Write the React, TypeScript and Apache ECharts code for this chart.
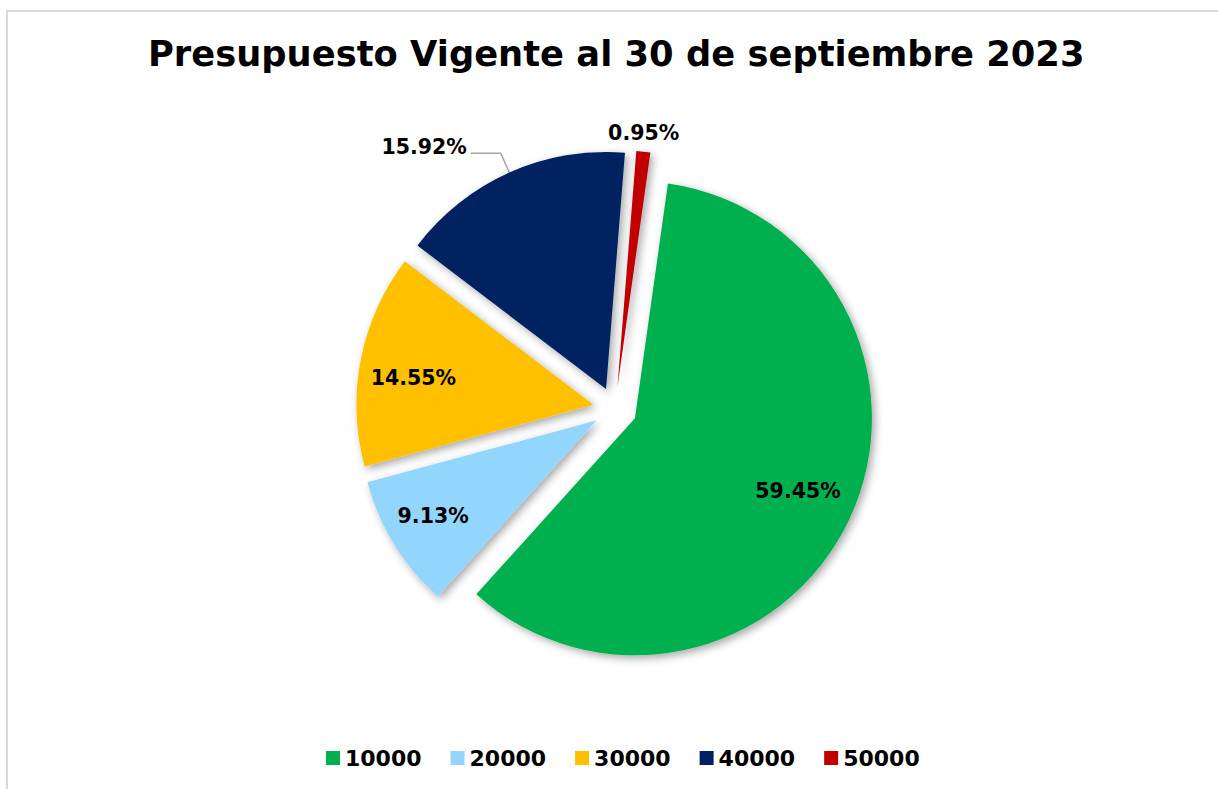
import React, { useEffect, useRef } from "react";
import * as echarts from "echarts";

const titleText = "Presupuesto Vigente al 30 de septiembre 2023";
const categories = ["10000", "20000", "30000", "40000", "50000"];
const percentages = [59.45, 9.13, 14.55, 15.92, 0.95];
const colors = ["#00B050", "#92D5FD", "#FFC000", "#002060", "#C00000"];
// which label placement each slice uses
const insideLabel = [true, true, true, false, false];
const outsideLeaderLabel = [false, false, false, true, false];
const outsideRingLabel = [false, false, false, false, true];
// small label nudges (style only)
const labelNudge = [[-5, -6], [-5, -2], [2, 9], [0, -6], [-2, 2]];

const FONT = "'DejaVu Sans', sans-serif";
const CENTER = [615, 409];
const R = 237;
const OFFSET = 22;
const START = 82;

const fmt = (p: any) => `${Number(p.value).toFixed(2)}%`;

export default function App() {
  const ref = useRef<HTMLDivElement>(null);
  useEffect(() => {
    if (!ref.current) return;
    const chart = echarts.init(ref.current, undefined, { renderer: "svg" });
    const labelBase = {
      fontFamily: FONT,
      fontWeight: "bold",
      fontSize: 20.5,
      color: "#000",
      formatter: fmt,
    };
    const nudge = (p: any) => ({ dx: labelNudge[p.dataIndex][0], dy: labelNudge[p.dataIndex][1] });
    const common = {
      type: "pie",
      center: CENTER,
      startAngle: START,
      clockwise: true,
      selectedMode: "multiple",
      selectedOffset: OFFSET,
      avoidLabelOverlap: false,
      animation: false,
      emphasis: { disabled: true },
      select: { disabled: false },
    };
    const option: any = {
      animation: false,
      backgroundColor: "#fff",
      title: {
        text: titleText,
        left: 143,
        top: 31,
        textStyle: { fontFamily: FONT, fontWeight: "bold", fontSize: 35.3, color: "#000" },
      },
      legend: {
        top: 742,
        left: 321,
        icon: "rect",
        itemWidth: 14,
        itemHeight: 14,
        itemGap: 29,
        selectedMode: false,
        data: categories.map((c, i) => ({ name: c, itemStyle: { color: colors[i] } })),
        textStyle: {
          fontFamily: FONT,
          fontWeight: "bold",
          fontSize: 22,
          lineHeight: 22,
          color: "#000",
        },
      },
      graphic: [
        {
          type: "rect",
          shape: { x: 7, y: 11, width: 1300, height: 900 },
          style: { fill: "none", stroke: "#D9D9D9", lineWidth: 2 },
          silent: true,
          z: -1,
        },
      ],
      series: [
        {
          ...common,
          name: "main",
          radius: R,
          itemStyle: {
            shadowBlur: 8,
            shadowColor: "rgba(0,0,0,0.35)",
            shadowOffsetX: 3,
            shadowOffsetY: 3,
          },
          labelLine: {
            show: true,
            length: 21,
            length2: 30,
            lineStyle: { color: "#A6A6A6", width: 1.5 },
          },
          labelLayout: nudge,
          data: categories.map((c, i) => ({
            name: c,
            value: percentages[i],
            selected: true,
            itemStyle: { color: colors[i] },
            label: outsideLeaderLabel[i]
              ? {
                  ...labelBase,
                  show: true,
                  position: "outside",
                  distanceToLabelLine: 4,
                }
              : { show: false },
            labelLine: { show: outsideLeaderLabel[i] },
          })),
        },
        {
          ...common,
          name: "insideLabels",
          radius: [128, R],
          silent: true,
          itemStyle: { color: "rgba(0,0,0,0)" },
          labelLine: { show: false },
          labelLayout: nudge,
          data: categories.map((c, i) => ({
            name: c,
            value: percentages[i],
            selected: true,
            label: insideLabel[i]
              ? { ...labelBase, show: true, position: "inside" }
              : { show: false },
          })),
        },
        {
          ...common,
          name: "ringLabels",
          radius: [R, R + 36],
          silent: true,
          itemStyle: { color: "rgba(0,0,0,0)" },
          labelLine: { show: false },
          labelLayout: nudge,
          data: categories.map((c, i) => ({
            name: c,
            value: percentages[i],
            selected: true,
            label: outsideRingLabel[i]
              ? { ...labelBase, show: true, position: "inside" }
              : { show: false },
          })),
        },
      ],
    };
    chart.setOption(option);
    return () => chart.dispose();
  }, []);
  return (
    <div
      ref={ref}
      style={{ position: "fixed", left: 0, top: 0, width: 1218, height: 789, background: "#fff" }}
    />
  );
}
